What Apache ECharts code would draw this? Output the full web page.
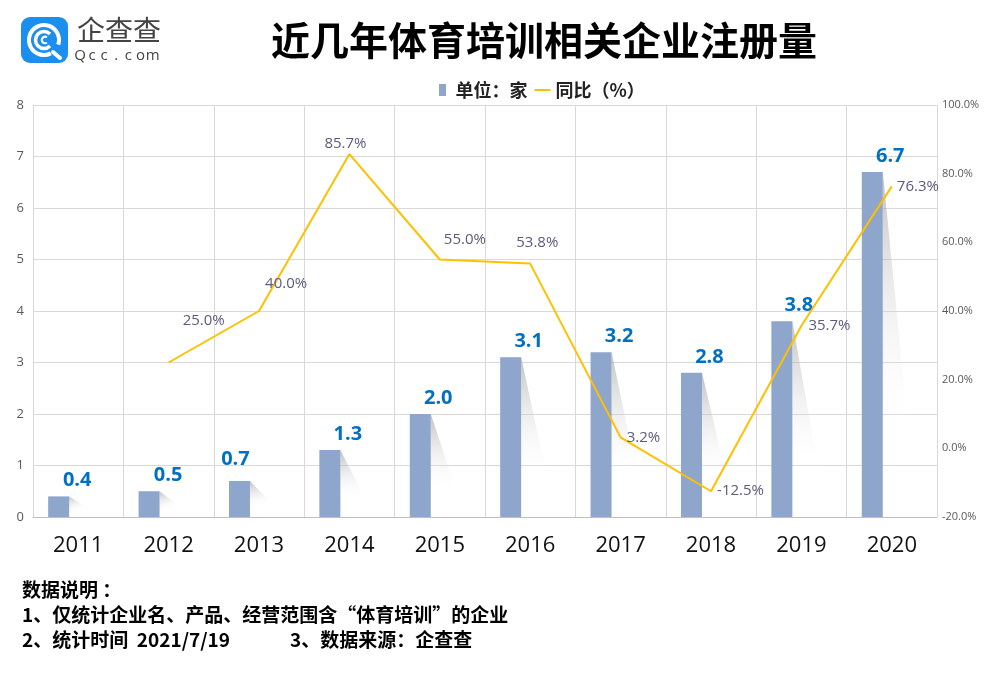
<!DOCTYPE html>
<html>
<head>
<meta charset="utf-8">
<script src="https://cdn.jsdelivr.net/npm/echarts@6/dist/echarts.min.js"></script>
<style>
html,body{margin:0;padding:0;background:#fff;}
#main{width:994px;height:673px;}
</style>
</head>
<body>
<div id="main"></div>
<script>
// ---- data ----
const years = ['2011','2012','2013','2014','2015','2016','2017','2018','2019','2020'];
const counts = [0.4, 0.5, 0.7, 1.3, 2.0, 3.1, 3.2, 2.8, 3.8, 6.7];
const yoy = [null, 25.0, 40.0, 85.7, 55.0, 53.8, 3.2, -12.5, 35.7, 76.3];
const leftTicks = {min: 0, max: 8, interval: 1};
const rightTicks = {min: -20, max: 100, interval: 20};
const titleText = '近几年体育培训相关企业注册量';
const barName = '单位：家';
const lineName = '同比（%）';
const notes = ['数据说明 ：', '1、仅统计企业名、产品、经营范围含“体育培训”的企业', '2、统计时间  2021/7/19', '3、数据来源：企查查'];

// label placement tweaks (style only)
const yoyLabelOffsets = [[0,0],[9,-42],[1,-27],[-30,-10],[-1,-20],[-19,-21],[1,0],[1,-1],[2,0],[0,0]];
const countLabelOffsets = [[18.5,0],[19,0],[-4,-6],[18,0],[18,0],[18,0],[18,0],[18,0],[17,0],[18,0]];

const BAR_W = 21, BAR_SHIFT = -19.5;
const CJK = '"Noto Sans CJK SC", "Noto Sans", sans-serif';
const LAT = '"Open Sans", "Noto Sans", sans-serif';

const chart = echarts.init(document.getElementById('main'));

const lineData = yoy.map((v, i) => ({
  value: v === null ? '-' : v,
  label: {offset: yoyLabelOffsets[i]}
}));
const barData = counts.map((v, i) => ({
  value: v,
  label: {offset: countLabelOffsets[i]}
}));

// logo graphics
const logo = [
  {type:'rect', shape:{x:21,y:17,width:47,height:46,r:9}, style:{fill:'#1B8EEF'}},
  {type:'arc', shape:{cx:44,cy:40,r:15,startAngle:Math.PI*0.35,endAngle:Math.PI*2.1}, style:{stroke:'#fff',lineWidth:4,fill:null}},
  {type:'line', shape:{x1:53,y1:52,x2:60,y2:58}, style:{stroke:'#fff',lineWidth:4,lineCap:'round'}},
  {type:'arc', shape:{cx:44,cy:40,r:8.5,startAngle:Math.PI*0.25,endAngle:Math.PI*1.75}, style:{stroke:'#fff',lineWidth:3.5,fill:null}},
  {type:'arc', shape:{cx:45,cy:40,r:3.2,startAngle:Math.PI*0.3,endAngle:Math.PI*1.7}, style:{stroke:'#fff',lineWidth:2.2,fill:null}},
  {type:'text', left:77, top:16, style:{text:'企查查', fill:'#444', font:'normal 28px ' + CJK}}
];
'Qcc.com'.split('').forEach((ch, i) => {
  logo.push({type:'text', x:80 + i*12.1, y:48, style:{text:ch, fill:'#444', font:'normal 15px ' + LAT, align:'center'}});
});
const noteGraphics = [
  {type:'text', left:22, top:580, style:{text:notes[0], fill:'#000', font:'bold 19px ' + CJK}},
  {type:'text', left:22, top:605, style:{text:notes[1], fill:'#000', font:'bold 19px ' + CJK}},
  {type:'text', left:22, top:630, style:{text:notes[2], fill:'#000', font:'bold 19px ' + CJK}},
  {type:'text', left:290, top:630, style:{text:notes[3], fill:'#000', font:'bold 19px ' + CJK}}
];

const option = {
  backgroundColor: '#fff',
  animation: false,
  title: {
    text: titleText, left: 266, top: 16,
    textStyle: {fontSize: 39, fontWeight: 'bold', color: '#000', fontFamily: CJK}
  },
  legend: {
    left: 434, top: 76, itemWidth: 16, itemHeight: 12, itemGap: 7,
    textStyle: {fontSize: 18, fontWeight: 'bold', color: '#222', fontFamily: CJK},
    data: [
      {name: barName, icon: 'path://M0,0H7V12H0Z'},
      {name: lineName, icon: 'path://M0,0H16V2H0Z'}
    ]
  },
  grid: {left: 33, right: 57, top: 105, bottom: 156, containLabel: false},
  xAxis: {
    type: 'category', data: years, boundaryGap: true,
    axisLine: {lineStyle: {color: '#bfbfbf', width: 1}},
    axisTick: {show: false},
    splitLine: {show: true, lineStyle: {color: '#d9d9d9'}},
    axisLabel: {fontSize: 22, color: '#111', margin: 18, fontFamily: LAT, interval: 0}
  },
  yAxis: [
    {
      type: 'value', min: leftTicks.min, max: leftTicks.max, interval: leftTicks.interval,
      axisLine: {show: true, lineStyle: {color: '#d9d9d9'}},
      axisTick: {show: false},
      splitLine: {lineStyle: {color: '#d9d9d9'}},
      axisLabel: {fontSize: 13, color: '#595959', margin: 9, fontFamily: LAT}
    },
    {
      type: 'value', min: rightTicks.min, max: rightTicks.max, interval: rightTicks.interval,
      axisLine: {show: false}, axisTick: {show: false}, splitLine: {show: false},
      axisLabel: {fontSize: 11, color: '#595959', margin: 5, fontFamily: LAT,
        formatter: v => v.toFixed(1) + '%'}
    }
  ],
  series: [
    {
      type: 'custom', name: 'shadow', z: 1, silent: true, yAxisIndex: 0,
      data: counts.map((v, i) => [i, v]),
      renderItem: function (params, api) {
        const top = api.coord([api.value(0), api.value(1)]);
        const base = api.coord([api.value(0), 0]);
        const R = top[0] + BAR_SHIFT + BAR_W / 2;
        const h = base[1] - top[1];
        const tipY = top[1] + h * 0.76;
        return {
          type: 'polygon',
          shape: {points: [[R, top[1]], [R + 26, tipY], [R, tipY]]},
          style: {
            fill: {type: 'linear', x: 0, y: 0, x2: 0.25, y2: 1, global: false,
              colorStops: [{offset: 0, color: 'rgba(150,150,150,0.6)'}, {offset: 1, color: 'rgba(255,255,255,0)'}]}
          }
        };
      }
    },
    {
      type: 'bar', name: barName, data: barData, yAxisIndex: 0,
      barWidth: BAR_W, barGap: '86%', z: 3,
      itemStyle: {color: '#8EA5CC'},
      label: {show: true, position: 'top', distance: 6, fontSize: 20, fontWeight: 'bold',
        color: '#0070C0', fontFamily: LAT, formatter: p => p.value.toFixed(1)}
    },
    {
      type: 'bar', name: 'spacer', data: counts.map(() => '-'), yAxisIndex: 0,
      barWidth: BAR_W, silent: true, itemStyle: {color: 'transparent'}
    },
    {
      type: 'line', name: lineName, data: lineData, yAxisIndex: 1, z: 4,
      symbol: 'circle', symbolSize: 0.1, showSymbol: true, connectNulls: false,
      lineStyle: {color: '#FFC000', width: 2}, itemStyle: {color: '#FFC000'},
      label: {show: true, position: 'right', distance: 5, fontSize: 15, color: '#5B5B7B',
        fontFamily: LAT, formatter: p => p.value.toFixed(1) + '%'}
    }
  ],
  graphic: logo.concat(noteGraphics)
};
chart.setOption(option);
</script>
</body>
</html>
